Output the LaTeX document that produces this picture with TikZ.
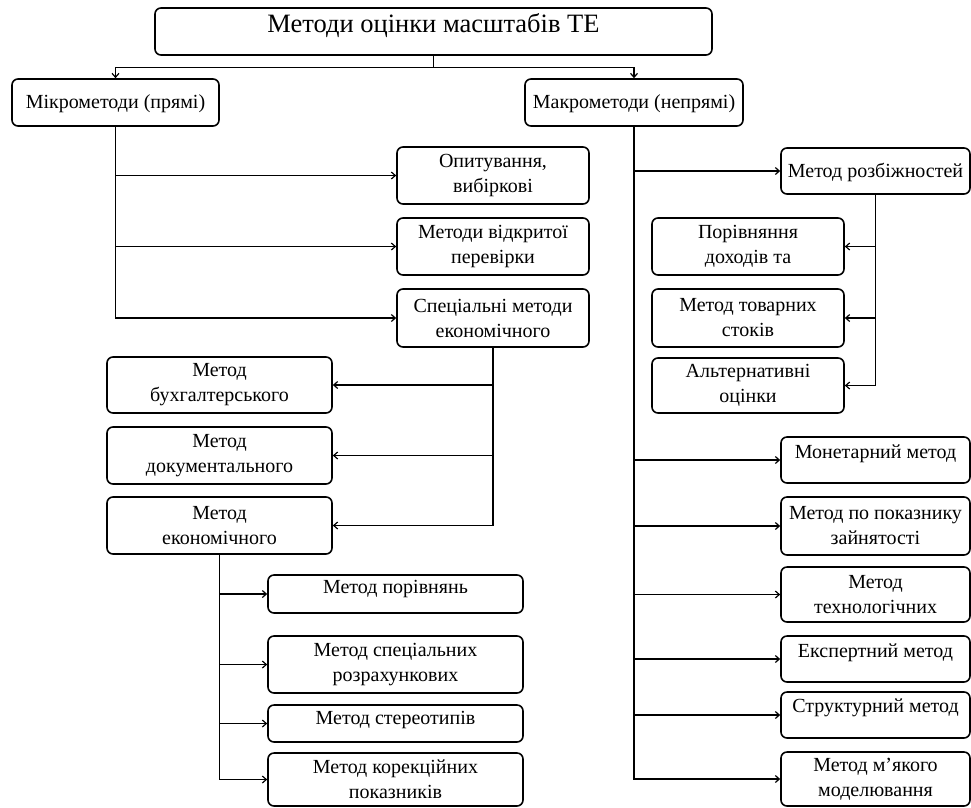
\documentclass[tikz,border=0pt]{standalone}
\usepackage{fontspec}
\setmainfont{Liberation Serif}
\usetikzlibrary{arrows.meta}
\newcommand{\rtxt}[2]{\smash{\raisebox{#1}{#2}}}
\begin{document}
\begin{tikzpicture}[x=1pt,y=-1pt,
  box/.style={draw, rounded corners=6pt, line width=1.6pt, align=center, inner sep=0pt,
    font=\fontsize{20}{25}\selectfont},
  arr/.style={line width=1.2pt, -{Straight Barb[length=4pt,width=7pt]}},
  ln/.style={line width=1.2pt}]
\useasboundingbox (0,0) rectangle (971,807);

% top
\node[box, minimum width=557pt, minimum height=47pt, font=\fontsize{26.5}{30}\selectfont] (title) at (433.5,31.5) {\rtxt{-0.5pt}{Методи оцінки масштабів ТЕ}};
\node[box, minimum width=207pt, minimum height=47pt] (micro) at (115.5,102.5) {\rtxt{-6pt}{Мікрометоди (прямі)}};
\node[box, minimum width=218pt, minimum height=47pt] (macro) at (634,102.5) {\rtxt{-6pt}{Макрометоди (непрямі)}};

% micro children
\node[box, minimum width=192pt, minimum height=57pt] (opyt) at (493,175.5) {Опитування,\\вибіркові};
\node[box, minimum width=192pt, minimum height=57pt] (vidkr) at (493,246.5) {Методи відкритої\\перевірки};
\node[box, minimum width=192pt, minimum height=58pt] (spec) at (493,318) {Спеціальні методи\\економічного};

% spec children
\node[box, minimum width=225pt, minimum height=56pt] (buh) at (219.5,385) {Метод\\бухгалтерського};
\node[box, minimum width=225pt, minimum height=57pt] (doc) at (219.5,455.5) {Метод\\документального};
\node[box, minimum width=225pt, minimum height=57pt] (ekon) at (219.5,525.5) {Метод\\економічного};

% ekon children
\node[box, minimum width=255pt, minimum height=38pt] (porivn) at (395.5,594) {\rtxt{1pt}{Метод порівнянь}};
\node[box, minimum width=255pt, minimum height=57pt] (sprozr) at (395.5,664.5) {Метод спеціальних\\розрахункових};
\node[box, minimum width=255pt, minimum height=37pt] (stereo) at (395.5,723.5) {\rtxt{-0.5pt}{Метод стереотипів}};
\node[box, minimum width=255pt, minimum height=53pt] (korek) at (395.5,779.5) {Метод корекційних\\показників};

% macro children
\node[box, minimum width=189pt, minimum height=46pt] (rozb) at (875.5,171) {\rtxt{-6pt}{Метод розбіжностей}};
\node[box, minimum width=192pt, minimum height=57pt] (dohod) at (748,246.5) {Порівняння\\доходів та};
\node[box, minimum width=192pt, minimum height=58pt] (tovar) at (748,318) {Метод товарних\\стоків};
\node[box, minimum width=192pt, minimum height=55pt] (alt) at (748,385.5) {Альтернативні\\оцінки};

\node[box, minimum width=189pt, minimum height=46pt] (monet) at (875.5,460) {\rtxt{2pt}{Монетарний метод}};
\node[box, minimum width=189pt, minimum height=58pt] (zain) at (875.5,526) {Метод по показнику\\зайнятості};
\node[box, minimum width=189pt, minimum height=55pt] (tech) at (875.5,594.5) {Метод\\технологічних};
\node[box, minimum width=189pt, minimum height=46pt] (expert) at (875.5,659) {\rtxt{2pt}{Експертний метод}};
\node[box, minimum width=189pt, minimum height=46pt] (struct) at (875.5,715) {\rtxt{3pt}{Структурний метод}};
\node[box, minimum width=189pt, minimum height=54pt] (myak) at (875.5,779) {Метод м’якого\\моделювання};

% connectors
\draw[ln] (title.south) -- ++(0,12) coordinate (tj);
\draw[arr] (tj) -| (micro.north);
\draw[arr] (tj) -| (macro.north);

\draw[arr] (micro.south) |- (opyt.west);
\draw[arr] (micro.south) |- (vidkr.west);
\draw[arr] (micro.south) |- (spec.west);

\draw[arr] (spec.south) |- (buh.east);
\draw[arr] (spec.south) |- (doc.east);
\draw[arr] (spec.south) |- (ekon.east);

\draw[arr] (ekon.south) |- (porivn.west);
\draw[arr] (ekon.south) |- (sprozr.west);
\draw[arr] (ekon.south) |- (stereo.west);
\draw[arr] (ekon.south) |- (korek.west);

\draw[arr] (macro.south) |- (rozb.west);
\draw[arr] (rozb.south) |- (dohod.east);
\draw[arr] (rozb.south) |- (tovar.east);
\draw[arr] (rozb.south) |- (alt.east);

\draw[arr] (macro.south) |- (monet.west);
\draw[arr] (macro.south) |- (zain.west);
\draw[arr] (macro.south) |- (tech.west);
\draw[arr] (macro.south) |- (expert.west);
\draw[arr] (macro.south) |- (struct.west);
\draw[arr] (macro.south) |- (myak.west);
\end{tikzpicture}
\end{document}
